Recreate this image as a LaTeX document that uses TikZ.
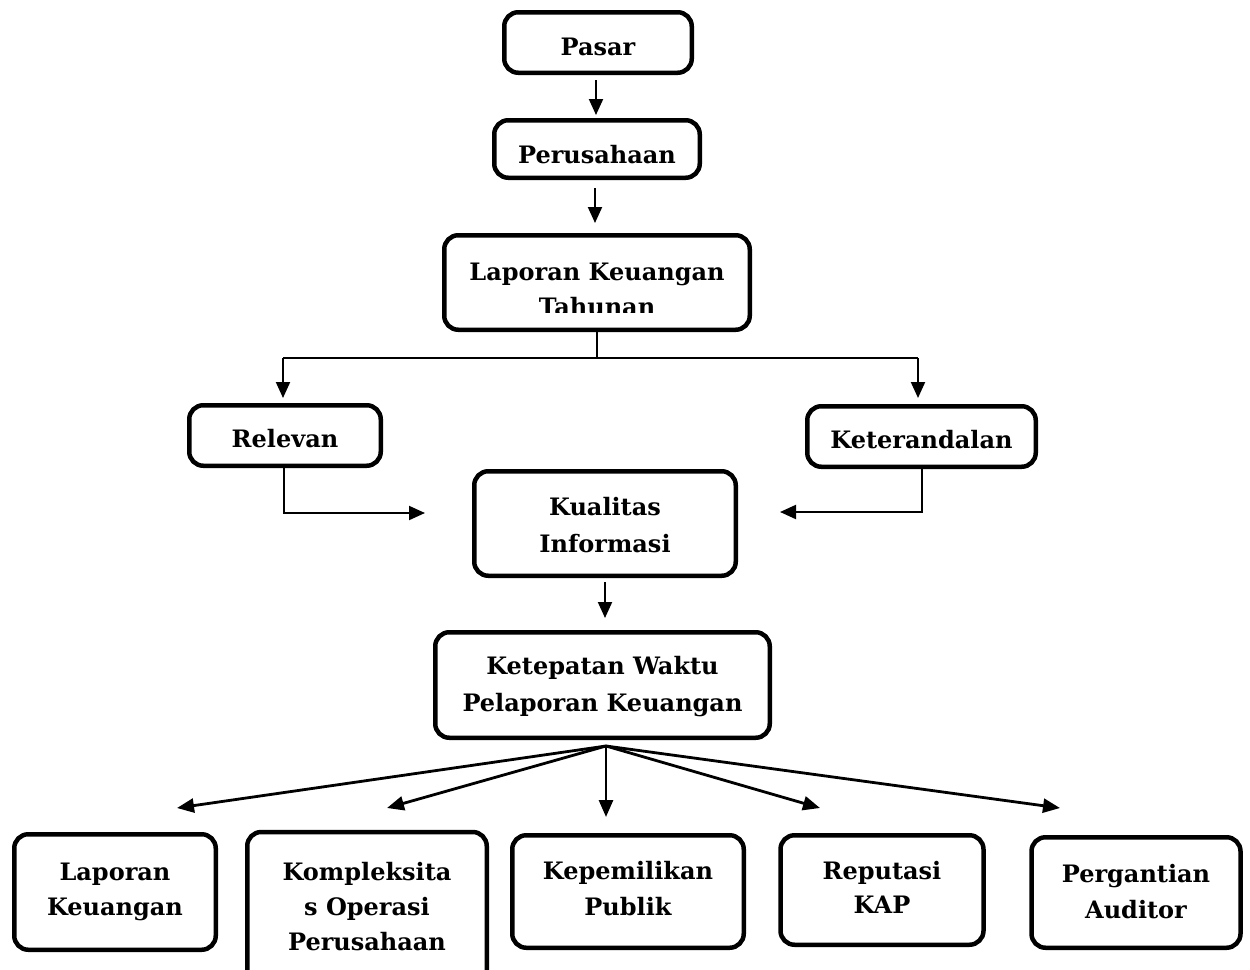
\documentclass[tikz,border=0pt]{standalone}
\usepackage{fontspec}
\setmainfont{DejaVu Serif}
\usetikzlibrary{arrows.meta,calc}
\tikzset{
  box/.style={draw, line width=4.5pt, rounded corners=14pt, inner sep=0pt},
  txt/.style={anchor=base, font=\bfseries\fontsize{24}{36}\selectfont, inner sep=0pt},
  conn/.style={line width=1.6pt},
  arr/.style={line width=2pt, -{Triangle[length=16pt,width=14pt]}},
  fanarr/.style={line width=2.8pt, -{Triangle[length=17pt,width=14pt]}}
}
\begin{document}
\begin{tikzpicture}[x=1pt,y=-1pt]
\useasboundingbox (0,0) rectangle (1250,969);
% top chain
\node[box, minimum width=187.5, minimum height=60.5] (pasar) at (598,42.5) {};
\node[txt] (pasart) at (598,55) {Pasar};
\node[box, minimum width=205.5, minimum height=57.5] (perus) at (597,149) {};
\node[txt] (perust) at (597,163) {Perusahaan};
\node[box, minimum width=305.5, minimum height=94.5] (lkt) at (597,282.5) {};
\begin{scope}
\clip (445,240) rectangle (749,312);
\node[txt] (lkt1) at (597,280) {Laporan Keuangan};
\node[txt] (lkt2) at (597,315) {Tahunan};
\end{scope}
\draw[arr, shorten <=5pt, shorten >=3pt] ([xshift=-2pt]pasar.south) -- ([xshift=-1pt]perus.north);
\draw[arr, shorten <=8pt, shorten >=10pt] ([xshift=-2pt]perus.south) -- ([xshift=-2pt]lkt.north);
% branch
\node[box, minimum width=191.5, minimum height=60.5] (relevan) at (285,435.5) {};
\node[txt] (relt) at (285,447) {Relevan};
\node[box, minimum width=228.5, minimum height=60.5] (keter) at (921.5,436.5) {};
\node[txt] (kett) at (921.5,448) {Keterandalan};
\coordinate (bl) at (283,358);
\coordinate (br) at (918,358);
\draw[conn] (lkt.south) |- (bl);
\draw[conn] (lkt.south) |- (br);
\draw[arr, shorten >=5pt] (bl) -- (bl |- relevan.north);
\draw[arr, shorten >=6pt] (br) -- (br |- keter.north);
% quality
\node[box, minimum width=261.5, minimum height=104.5] (kual) at (605,523.5) {};
\node[txt] (kual1) at (605,515) {Kualitas};
\node[txt] (kual2) at (605,552) {Informasi};
\coordinate (rtip) at (425,513);
\coordinate (ktip) at (780,512);
\draw[arr] ([xshift=-1pt]relevan.south) |- (rtip);
\draw[arr] ([xshift=0.5pt]keter.south) |- (ktip);
% timeliness
\node[box, minimum width=334.5, minimum height=105.5] (ketep) at (602.5,685) {};
\node[txt] (ketep1) at (602.5,674) {Ketepatan Waktu};
\node[txt] (ketep2) at (602.5,711) {Pelaporan Keuangan};
\draw[arr, shorten <=4pt, shorten >=12pt] (kual.south) -- (kual.south |- ketep.north);
% bottom boxes
\node[box, minimum width=201.5, minimum height=115.5] (b1) at (115,892) {};
\node[txt] (b1a) at (115,880) {Laporan};
\node[txt] (b1b) at (115,915) {Keuangan};
\node[box, minimum width=239.5, minimum height=180] (b2) at (367,922) {};
\node[txt] (b2a) at (367,880) {Kompleksita};
\node[txt] (b2b) at (367,915) {s Operasi};
\node[txt] (b2c) at (367,950) {Perusahaan};
\node[box, minimum width=231.5, minimum height=112.5] (b3) at (628,891.5) {};
\node[txt] (b3a) at (628,879) {Kepemilikan};
\node[txt] (b3b) at (628,915) {Publik};
\node[box, minimum width=203, minimum height=109.5] (b4) at (882,890) {};
\node[txt] (b4a) at (882,879) {Reputasi};
\node[txt] (b4b) at (882,913) {KAP};
\node[box, minimum width=209, minimum height=110.5] (b5) at (1136,892.5) {};
\node[txt] (b5a) at (1136,882) {Pergantian};
\node[txt] (b5b) at (1136,918) {Auditor};
% fan
\coordinate (fan) at (606,746);
\coordinate (t1) at (177,808);
\coordinate (t2) at (387,808);
\coordinate (t3) at (606,817);
\coordinate (t4) at (820,808);
\coordinate (t5) at (1060,808);
\foreach \t in {t1,t2,t3,t4,t5} {\draw[fanarr] (fan) -- (\t);}
\end{tikzpicture}
\end{document}
